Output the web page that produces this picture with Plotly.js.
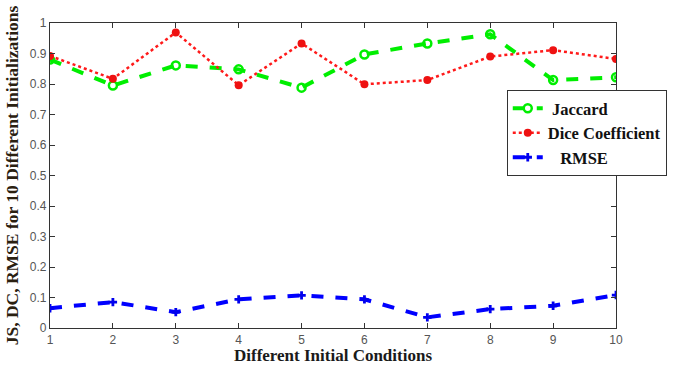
<!DOCTYPE html>
<html><head><meta charset="utf-8">
<script src="https://cdn.plot.ly/plotly-3.0.1.min.js"></script>
<style>html,body{margin:0;padding:0;background:#fff;}#chart{width:674px;height:365px;}</style>
</head><body><div id="chart"></div>
<script>
const conditions = [1,2,3,4,5,6,7,8,9,10];
const jaccard = [0.880,0.795,0.861,0.848,0.788,0.897,0.933,0.963,0.813,0.822];
const dice = [0.892,0.817,0.969,0.796,0.933,0.799,0.813,0.890,0.911,0.882];
const rmse = [0.065,0.085,0.052,0.094,0.107,0.094,0.035,0.062,0.073,0.108];
const seriesNames = ['\u00a0Jaccard','Dice Coefficient','\u00a0\u00a0\u00a0RMSE'];
const xTicks = [1,2,3,4,5,6,7,8,9,10];
const yTicks = [0,0.1,0.2,0.3,0.4,0.5,0.6,0.7,0.8,0.9,1];
const yTickText = ['0','0.1','0.2','0.3','0.4','0.5','0.6','0.7','0.8','0.9','1'];

const traces = [
  {x: conditions, y: jaccard, name: seriesNames[0], mode: 'lines+markers',
   line: {color: '#00ee00', width: 4, dash: 'dash'},
   marker: {symbol: 'circle-open', size: 8, color: '#00ee00', line: {width: 2.5, color: '#00ee00'}}},
  {x: conditions, y: dice, name: seriesNames[1], mode: 'lines+markers',
   line: {color: '#ff1a1a', width: 2.5, dash: 'dot'},
   marker: {symbol: 'circle', size: 8, color: '#ee1111'}},
  {x: conditions, y: rmse, name: seriesNames[2], mode: 'lines+markers',
   line: {color: '#0000ff', width: 4, dash: 'dash'},
   marker: {symbol: 'cross', size: 7, color: '#0000ee'}}
];

const axisCommon = {showgrid: false, zeroline: false, showline: true, linecolor: '#333', linewidth: 1.2,
  mirror: 'ticks', ticks: 'inside', ticklen: 5, tickcolor: '#333',
  tickfont: {family: 'Arial, Liberation Sans, sans-serif', size: 12, color: '#555'}};

const layout = {
  width: 674, height: 365,
  margin: {l: 50, r: 58, t: 23, b: 37, autoexpand: false},
  paper_bgcolor: '#fff', plot_bgcolor: '#fff',
  showlegend: true,
  legend: {x: 0.807, y: 0.78, xanchor: 'left', yanchor: 'top',
    bgcolor: '#fff', bordercolor: '#333', borderwidth: 1,
    font: {family: 'Liberation Serif, Times New Roman, serif', size: 16.5, color: '#111', weight: 'bold'},
    tracegroupgap: 0, itemwidth: 30},
  xaxis: Object.assign({}, axisCommon, {range: [1, 10], tickvals: xTicks, automargin: false,
    title: {text: '<b>Different Initial Conditions</b>', standoff: 4,
      font: {family: 'Liberation Serif, Times New Roman, serif', size: 17, color: '#1a1a1a'}}}),
  yaxis: Object.assign({}, axisCommon, {range: [0, 1], tickvals: yTicks, ticktext: yTickText, automargin: false,
    title: {text: '<b>JS, DC, RMSE for 10 Different Initializations</b>', standoff: 6,
      font: {family: 'Liberation Serif, Times New Roman, serif', size: 17.5, color: '#2a2010'}}})
};

Plotly.newPlot('chart', traces, layout, {displayModeBar: false, staticPlot: true});
</script>
</body></html>
